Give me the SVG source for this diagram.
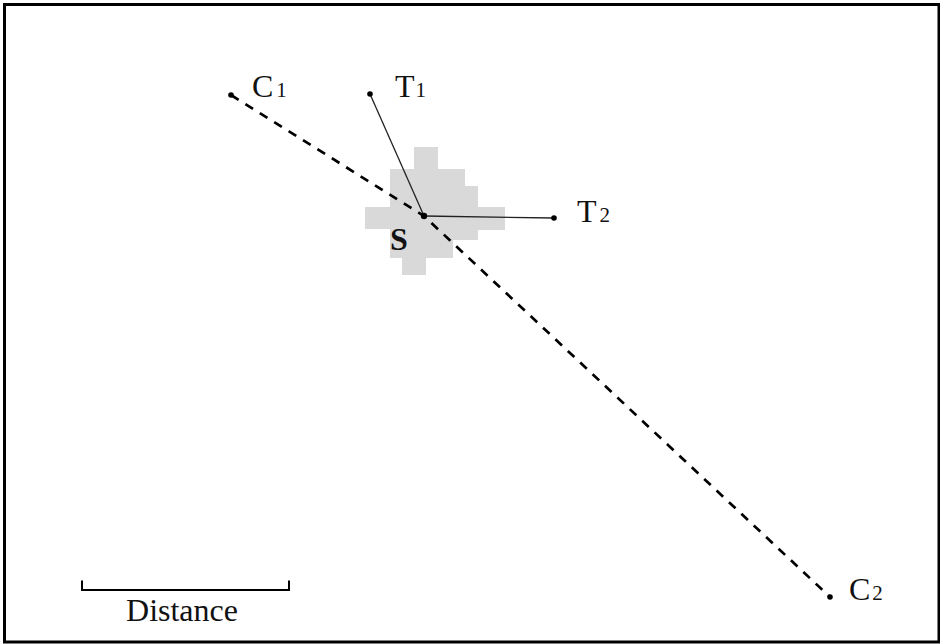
<svg xmlns="http://www.w3.org/2000/svg" width="940" height="644" viewBox="0 0 940 644">
<style>
.lbl{font-family:"Liberation Serif","Times New Roman",serif;font-size:32px;fill:#111}
.sub{font-size:21px}
.dot{fill:#000}
.thin{stroke:#222;stroke-width:1.3;fill:none}
.dash{stroke:#000;stroke-width:2.7;fill:none;stroke-dasharray:9 8}
</style>
<rect x="0" y="0" width="940" height="644" fill="#fff"/>
<rect x="4.5" y="4.5" width="934.5" height="637.5" fill="none" stroke="#000" stroke-width="3"/>
<g id="region">
<polygon fill="#d9d9d9" points="414,147 438,147 438,169 465,169 465,186 478,186 478,207 505,207 505,230 478,230 478,240 453,240 453,258 426,258 426,275 402,275 402,258 390,258 390,229 365,229 365,207 390,207 390,169 414,169"/>
</g>
<g id="connectors">
<polyline class="dash" points="231,95 424,216 830,597"/>
<line class="thin" x1="370" y1="94" x2="424" y2="216"/>
<line class="thin" x1="424" y1="216" x2="554" y2="218"/>
</g>
<g id="C1"><circle class="dot" cx="231" cy="95" r="2.8"/><text class="lbl" x="252" y="97">C<tspan class="sub" dx="3">1</tspan></text></g>
<g id="T1"><circle class="dot" cx="370" cy="94" r="2.8"/><text class="lbl" x="395" y="97">T<tspan class="sub" dx="1">1</tspan></text></g>
<g id="S"><circle class="dot" cx="424" cy="216" r="3.2"/><text class="lbl" x="390" y="250" font-weight="bold">S</text></g>
<g id="T2"><circle class="dot" cx="554" cy="218" r="2.8"/><text class="lbl" x="577" y="222">T<tspan class="sub" dx="3">2</tspan></text></g>
<g id="C2"><circle class="dot" cx="830" cy="597" r="2.8"/><text class="lbl" x="849" y="600">C<tspan class="sub" dx="2">2</tspan></text></g>
<g id="scale">
<polyline points="82,580.5 82,590 289,590 289,580.5" fill="none" stroke="#000" stroke-width="2"/>
<text class="lbl" x="182" y="621" text-anchor="middle" font-size="30">Distance</text>
</g>
</svg>
